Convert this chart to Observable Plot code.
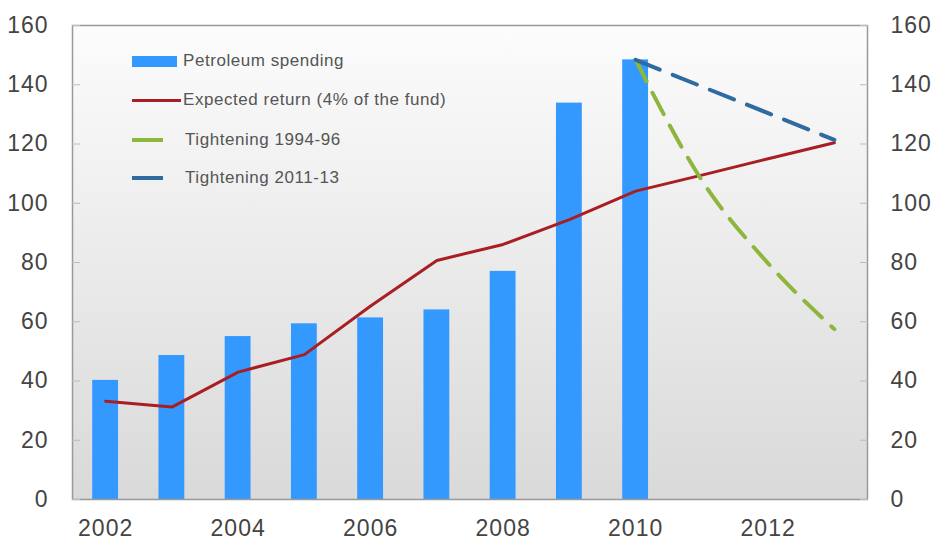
<!DOCTYPE html>
<html>
<head>
<meta charset="utf-8">
<script src="https://cdn.jsdelivr.net/npm/d3@7"></script>
<script src="https://cdn.jsdelivr.net/npm/@observablehq/plot@0.6"></script>
<style>
  html, body { margin: 0; padding: 0; background: #fff; }
  #wrap { position: relative; width: 933px; height: 542px; font-family: "Liberation Sans", Arial, sans-serif; }
  .leg { position: absolute; left: 132px; font-size: 17px; letter-spacing: 0.55px; color: #555; white-space: nowrap; }
  .leg .sw { position: absolute; left: 0; }
  .leg .tx { position: absolute; top: 0; transform: translateY(-50%); }
</style>
</head>
<body>
<div id="wrap"></div>
<script>
// ---- data ----
const spendYears = [2002, 2003, 2004, 2005, 2006, 2007, 2008, 2009, 2010];
const spendValues = [40.2, 48.6, 55.0, 59.3, 61.3, 64.0, 77.0, 133.8, 148.4];

const returnYears = [2002, 2003, 2004, 2005, 2006, 2007, 2008, 2009, 2010, 2011, 2012, 2013];
const returnValues = [33.2, 31.2, 43.0, 48.9, 65.3, 80.7, 86.1, 94.5, 104.1, 109.5, 115.0, 120.4];

const tight9496Years = [2010, 2011, 2012, 2013];
const tight9496Values = [148.4, 107.7, 79.7, 57.5];

const tight1113Years = [2010, 2011, 2012, 2013];
const tight1113Values = [148.4, 139.4, 130.4, 121.4];

const xTicks = [2002, 2004, 2006, 2008, 2010, 2012];
const yTicks = [0, 20, 40, 60, 80, 100, 120, 140, 160];

const legendLabels = ["Petroleum spending", "Expected return (4% of the fund)", "Tightening 1994-96", "Tightening 2011-13"];
const colors = { spend: "#3399ff", ret: "#a81e22", t9496: "#8db63c", t1113: "#2f6aa0" };

// ---- tables ----
const spend = spendYears.map((y, i) => ({ year: y, value: spendValues[i] }));
const ret = returnYears.map((y, i) => ({ year: y, value: returnValues[i] }));
const t9496 = tight9496Years.map((y, i) => ({ year: y, value: tight9496Values[i] }));
const t1113 = tight1113Years.map((y, i) => ({ year: y, value: tight1113Values[i] }));

const tickFont = { fontSize: 23, fill: "#444" };

const chart = Plot.plot({
  width: 933,
  height: 542,
  marginLeft: 72,
  marginRight: 66,
  marginTop: 25,
  marginBottom: 43,
  style: { fontFamily: "'Liberation Sans', Arial, sans-serif", background: "transparent", overflow: "visible", letterSpacing: "1px" },
  x: { domain: [2001.5, 2013.5] },
  y: { domain: [0, 160] },
  marks: [
    Plot.frame({ fill: "url(#bgGrad)", stroke: "none" }),
    Plot.rectY(spend, { x1: d => d.year - 0.195, x2: d => d.year + 0.195, y: "value", fill: colors.spend }),
    Plot.line(ret, { x: "year", y: "value", stroke: colors.ret, strokeWidth: 3, curve: "linear" }),
    Plot.line(t9496, { x: "year", y: "value", stroke: colors.t9496, strokeWidth: 4, strokeDasharray: "24,13", curve: "monotone-x" }),
    Plot.line(t1113, { x: "year", y: "value", stroke: colors.t1113, strokeWidth: 4, strokeDasharray: "26,14" }),
    Plot.frame({ stroke: "#999", strokeWidth: 1.5 }),
    Plot.axisY(yTicks, { anchor: "left", tickSize: -8, tickPadding: 32, stroke: "#bbb", ...tickFont, label: null }),
    Plot.axisY(yTicks, { anchor: "right", tickSize: -8, tickPadding: 31, stroke: "#bbb", ...tickFont, label: null }),
    Plot.axisX(xTicks, { anchor: "bottom", tickSize: 0, tickPadding: 20, tickFormat: d => String(d), ...tickFont, label: null })
  ]
});

// gradient for plot background
const ns = "http://www.w3.org/2000/svg";
const defs = document.createElementNS(ns, "defs");
defs.innerHTML = '<linearGradient id="bgGrad" x1="0" y1="0" x2="0" y2="1">' +
  '<stop offset="0" stop-color="#fcfcfc"/><stop offset="1" stop-color="#d9d9d9"/></linearGradient>';
chart.insertBefore(defs, chart.firstChild);

const wrap = document.getElementById("wrap");
wrap.appendChild(chart);

// ---- legend (HTML overlay) ----
const legendRows = [
  { label: legendLabels[0], top: 61, sw: `<div class="sw" style="top:-5px;width:45px;height:11px;background:${colors.spend}"></div>`, tx: 51 },
  { label: legendLabels[1], top: 100, sw: `<div class="sw" style="top:-1.5px;width:49px;height:3px;background:${colors.ret}"></div>`, tx: 51 },
  { label: legendLabels[2], top: 140, sw: `<div class="sw" style="top:-2px;width:31px;height:4px;background:${colors.t9496}"></div>`, tx: 53 },
  { label: legendLabels[3], top: 178, sw: `<div class="sw" style="top:-2px;width:31px;height:4px;background:${colors.t1113}"></div>`, tx: 53 }
];
for (const r of legendRows) {
  const row = document.createElement("div");
  row.className = "leg";
  row.style.top = r.top + "px";
  row.innerHTML = r.sw + `<span class="tx" style="left:${r.tx}px">${r.label}</span>`;
  wrap.appendChild(row);
}
</script>
</body>
</html>
